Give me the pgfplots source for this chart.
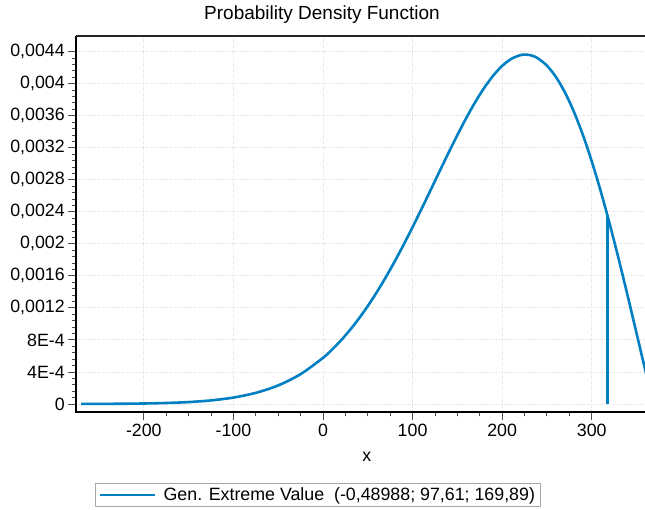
\documentclass[border=0pt]{standalone}
\usepackage{fontspec}
\setmainfont{Liberation Sans}
\usepackage{pgfplots}
\pgfplotsset{compat=1.18}
\definecolor{gevblue}{RGB}{0,128,194}
\begin{document}
\begin{tikzpicture}[x=1pt,y=1pt]
\path[use as bounding box] (-76.3,-96.7) rectangle (568.7,412.3);
\begin{axis}[
  at={(0,0)}, anchor=south west,
  scale only axis, width=568.7pt, height=376.3pt,
  xmin=-275.4, xmax=359.5, ymin=-0.000104, ymax=0.004596,
  axis line style={draw=none},
  tick align=outside, tick pos=left,
  xtick={-200,-100,0,100,200,300},
  xticklabels={-200,-100,0,100,200,300},
  minor x tick num=3,
  ytick={0,0.0004,0.0008,0.0012,0.0016,0.002,0.0024,0.0028,0.0032,0.0036,0.004,0.0044},
  yticklabels={0,4E-4,8E-4,{0,0012},{0,0016},{0,002},{0,0024},{0,0028},{0,0032},{0,0036},{0,004},{0,0044}},
  scaled y ticks=false, scaled x ticks=false,
  minor y tick num=4,
  major tick length=8pt, minor tick length=4pt,
  every tick/.style={black!70, line width=0.9pt},
  grid=major, grid style={dotted, black!14, line width=0.9pt},
  tick label style={font=\fontsize{17.8}{20}\selectfont},
  title={Probability Density Function},
  title style={at={(0.432,1)}, anchor=base, yshift=11pt, font=\fontsize{19}{22}\selectfont},
  xlabel={x},
  xlabel style={at={(0.5107,0)}, anchor=base, yshift=-49pt, font=\fontsize{17.8}{20}\selectfont},
  legend style={at={(0.0329,-0.1887)}, anchor=north west, draw=black!35, line width=0.8pt,
    font=\fontsize{17.8}{20}\selectfont},
  legend cell align=left,
  legend image code/.code={\draw[#1] (0pt,0pt) -- (55.6pt,0pt);},
  after end axis/.code={
    \draw[black, line width=2pt] (rel axis cs:0,1) -- (rel axis cs:0,0) -- (rel axis cs:1,0);
    \draw[black!85, line width=2pt] (rel axis cs:0,1) -- (rel axis cs:1,1);
  },
]
\addplot[gevblue, line width=2.6pt, smooth] table {
x y
-270 0.0000007
-250 0.0000013
-225 0.0000029
-200 0.0000061
-175 0.0000123
-150 0.0000238
-125 0.0000445
-100 0.0000801
-75 0.0001388
-50 0.0002318
-25 0.0003725
0 0.0005758
10 0.0006780
20 0.0007933
30 0.0009224
40 0.0010656
50 0.0012232
60 0.0013950
70 0.0015806
80 0.0017790
90 0.0019890
100 0.0022090
110 0.0024363
120 0.0026684
130 0.0029021
140 0.0031335
150 0.0033585
160 0.0035725
170 0.0037710
180 0.0039488
190 0.0041009
200 0.0042225
210 0.0043089
220 0.0043559
225 0.0043636
230 0.0043597
235 0.0043444
240 0.0043170
250 0.0042260
260 0.0040850
270 0.0038938
280 0.0036532
290 0.0033651
300 0.0030325
310 0.0026596
320 0.0022518
330 0.0018151
340 0.0013570
350 0.0008861
355 0.0006490
360 0.0004132
365 0.0001816
};
\addlegendentry{\hspace{5pt}Gen. Extreme Value\ \ (-0,48988; 97,61; 169,89)}
\addplot[gevblue, line width=2.6pt, forget plot] coordinates {(317.4,0) (317.4,0.00236)};
\end{axis}
\end{tikzpicture}
\end{document}
